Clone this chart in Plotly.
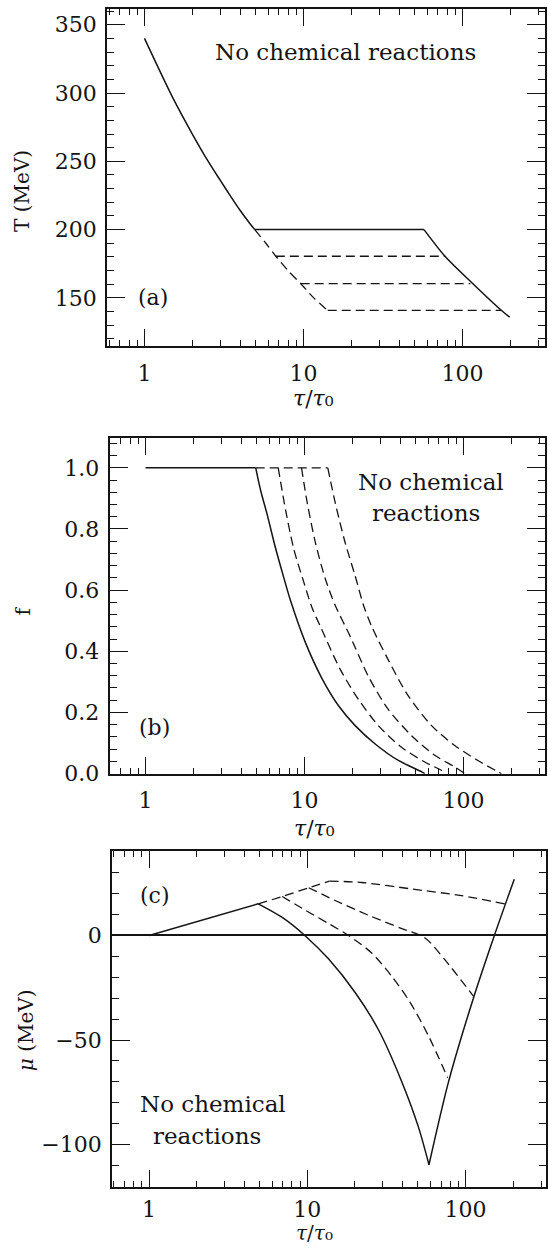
import plotly.graph_objects as go

# ---------------- data ----------------
# panel (a): temperature T (MeV) vs tau/tau0
a_rise_tau = [1, 1.5, 2, 2.5, 3, 3.5, 4, 4.5, 4.94]
a_rise_T = [340, 297, 270, 250.5, 236, 224, 214, 206, 200]
a_flat_tau = [4.94, 57.3]
a_flat_T = [200, 200]
a_fall_tau = [57.3, 77.6, 116.7, 176, 198]
a_fall_T = [200, 180.5, 160.2, 140.8, 135.9]
a_dash_tau = [4.94, 5.8, 6.7, 8.0, 9.6, 11.6, 14.2]
a_dash_T = [200, 190, 180.5, 170, 160.5, 150, 140.8]
a_h180_tau = [6.7, 78]
a_h180_T = [180.5, 180.5]
a_h160_tau = [9.6, 112]
a_h160_T = [160.5, 160.5]
a_h140_tau = [14.2, 176]
a_h140_T = [140.8, 140.8]

# panel (b): fraction f vs tau/tau0
b_flat_tau = [1, 4.93]
b_flat_f = [1, 1]
b_solid_tau = [4.93, 5.3, 5.8, 6.58, 7.41, 8.17, 10.1, 12.9, 16.4, 20.8, 27.8, 38.9, 54.5, 57]
b_solid_f = [1, 0.925, 0.85, 0.736, 0.64, 0.565, 0.43, 0.31, 0.221, 0.157, 0.097, 0.043, 0.006, 0]
b_top_tau = [4.93, 14.0]
b_top_f = [1, 1]
b_d1_tau = [6.83, 7.59, 8.56, 9.89, 11.1, 12.6, 16.8, 21.8, 29.1, 40.7, 57, 72.5, 78]
b_d1_f = [1, 0.863, 0.734, 0.626, 0.545, 0.48, 0.34, 0.243, 0.157, 0.086, 0.038, 0.011, 0]
b_d2_tau = [9.57, 10.4, 11.7, 13.5, 15.6, 19.4, 25.2, 33.6, 47.1, 65.9, 87.9, 101.6]
b_d2_f = [1, 0.885, 0.755, 0.637, 0.55, 0.448, 0.318, 0.21, 0.124, 0.06, 0.022, 0]
b_d3_tau = [14.0, 15.6, 18.0, 20.8, 23.5, 26.5, 33.6, 44.9, 62.9, 87.9, 123, 164.5, 172.6]
b_d3_f = [1, 0.885, 0.755, 0.647, 0.55, 0.48, 0.372, 0.254, 0.157, 0.092, 0.043, 0.006, 0]

# panel (c): chemical potential mu (MeV) vs tau/tau0
c_up_tau = [1, 4.9]
c_up_mu = [0, 15.1]
c_down_tau = [4.9, 6.94, 9.64, 13.6, 20.1, 28.2, 39.5, 50.3, 58.7]
c_down_mu = [15.1, 8.6, 0, -11.2, -27.4, -45.2, -69.9, -91.5, -109.6]
c_back_tau = [58.7, 78, 112, 152, 203]
c_back_mu = [-109.6, -70, -30, 0, 26.9]
c_rise_tau = [4.9, 6.94, 10.2, 13.8]
c_rise_mu = [15.1, 18.6, 22.8, 26]
c_top_tau = [13.8, 22.1, 45.7, 94.2, 176.7]
c_top_mu = [26, 25.3, 22.2, 19.0, 15.1]
c_d2_tau = [10.2, 15.0, 24.4, 39.5, 55.4, 74.1, 112]
c_d2_mu = [22.8, 16.7, 9.6, 3.3, -1.2, -11.7, -29]
c_d3_tau = [6.94, 9.74, 13.6, 18.2, 25.6, 34.2, 44.7, 58.2, 77]
c_d3_mu = [18.6, 12, 5.7, 0, -8.5, -19.6, -32.1, -47.9, -68]

x_major = [1, 10, 100]
x_major_text = ["1", "10", "100"]
x_minor = [0.6, 0.7, 0.8, 0.9, 2, 3, 4, 5, 6, 7, 8, 9,
           20, 30, 40, 50, 60, 70, 80, 90, 200, 300]

# ---------------- figure ----------------
W, H = 548, 1259
FONT = "DejaVu Serif"
INK = "#141414"


def px_x(p):
    return p / W


def px_y(p):
    return 1 - p / H


fig = go.Figure()

SOLID = dict(color=INK, width=1.5)
DASH = dict(color=INK, width=1.3, dash="9px,5px")


def add(x, y, line, xa, ya, smooth=True):
    ln = dict(line)
    if smooth and len(x) > 2:
        ln["shape"] = "spline"
        ln["smoothing"] = 0.8
    fig.add_trace(go.Scatter(x=x, y=y, mode="lines", line=ln,
                             xaxis=xa, yaxis=ya, showlegend=False,
                             hoverinfo="skip"))


add(a_rise_tau, a_rise_T, SOLID, "x", "y")
add(a_flat_tau, a_flat_T, SOLID, "x", "y")
add(a_fall_tau, a_fall_T, SOLID, "x", "y")
add(a_dash_tau, a_dash_T, DASH, "x", "y")
add(a_h180_tau, a_h180_T, DASH, "x", "y")
add(a_h160_tau, a_h160_T, DASH, "x", "y")
add(a_h140_tau, a_h140_T, DASH, "x", "y")

add(b_flat_tau, b_flat_f, SOLID, "x2", "y2")
add(b_solid_tau, b_solid_f, SOLID, "x2", "y2")
add(b_top_tau, b_top_f, DASH, "x2", "y2")
add(b_d1_tau, b_d1_f, DASH, "x2", "y2")
add(b_d2_tau, b_d2_f, DASH, "x2", "y2")
add(b_d3_tau, b_d3_f, DASH, "x2", "y2")

add(c_up_tau, c_up_mu, SOLID, "x3", "y3")
add(c_down_tau, c_down_mu, SOLID, "x3", "y3")
add(c_back_tau, c_back_mu, SOLID, "x3", "y3")
add(c_rise_tau, c_rise_mu, DASH, "x3", "y3")
add(c_top_tau, c_top_mu, DASH, "x3", "y3")
add(c_d2_tau, c_d2_mu, DASH, "x3", "y3")
add(c_d3_tau, c_d3_mu, DASH, "x3", "y3")

tickfont = dict(family=FONT, size=22, color=INK)


def xaxis(domain, rng, anchor, standoff=6):
    return dict(type="log", domain=domain, range=rng, anchor=anchor,
                showline=True, linecolor=INK, linewidth=2, mirror="allticks",
                ticks="inside", ticklen=17, tickwidth=1.3, tickcolor=INK,
                tickvals=x_major, ticktext=x_major_text,
                minor=dict(tickvals=x_minor, ticks="inside", ticklen=6,
                           tickwidth=1.1, tickcolor=INK, showgrid=False),
                showgrid=False, zeroline=False, tickfont=tickfont,
                ticklabelstandoff=standoff)


def yaxis(domain, rng, anchor, dtick, mdtick, fmt=None, zero=False):
    d = dict(domain=domain, range=rng, anchor=anchor,
             showline=True, linecolor=INK, linewidth=2, mirror="allticks",
             ticks="inside", ticklen=18, tickwidth=1.3, tickcolor=INK,
             dtick=dtick, tick0=0,
             minor=dict(dtick=mdtick, tick0=0, ticks="inside", ticklen=7,
                        tickwidth=1.1, tickcolor=INK, showgrid=False),
             showgrid=False, zeroline=zero, zerolinecolor=INK, zerolinewidth=1.5,
             tickfont=tickfont, ticklabelstandoff=4)
    if fmt:
        d["tickformat"] = fmt
    return d


fig.update_layout(
    width=W, height=H, margin=dict(l=0, r=0, t=0, b=0),
    paper_bgcolor="white", plot_bgcolor="white", showlegend=False,
    xaxis=xaxis([px_x(107.5), px_x(547)], [-0.235, 2.519], "y"),
    yaxis=yaxis([px_y(350), px_y(9.3)], [114.5, 361.4], "x", 50, 10),
    xaxis2=xaxis([px_x(110), px_x(547)], [-0.226, 2.512], "y2"),
    yaxis2=yaxis([px_y(781.7), px_y(442.7)], [0, 1.097], "x2", 0.2, 0.04, ".1f"),
    xaxis3=xaxis([px_x(112.5), 1.0], [-0.2336, 2.508], "y3", standoff=2),
    yaxis3=yaxis([px_y(1199.3), px_y(860)], [-120.2, 40.3], "x3", 50, 10, zero=True),
)


def note(text, x, y, size=22, angle=0, yanchor="middle"):
    fig.add_annotation(text=text, x=px_x(x), y=px_y(y), xref="paper", yref="paper",
                       showarrow=False, xanchor="center", yanchor=yanchor,
                       textangle=angle, borderpad=0,
                       font=dict(family=FONT, size=size, color=INK))


# panel texts
note("No chemical reactions", 347, 53, 23)
note("(a)", 154, 301)
note("No chemical", 433, 487, 23)
note("reactions", 428, 518, 23)
note("(b)", 155, 735)
note("(c)", 156, 905)
note("No chemical", 214, 1116, 23)
note("reactions", 208, 1148, 23)

# axis titles
XT = "<i>τ</i>/<i>τ</i>₀"
note("T (MeV)", 22, 193, 20, -90)
note("f", 23, 617, 20, -90)
note("<i>μ</i> (MeV)", 26, 1041, 20, -90)
note(XT, 315, 403, 22)
note(XT, 316, 837, 22)
note(XT, 316, 1259, 20, yanchor="bottom")

fig.write_html("out.html")
